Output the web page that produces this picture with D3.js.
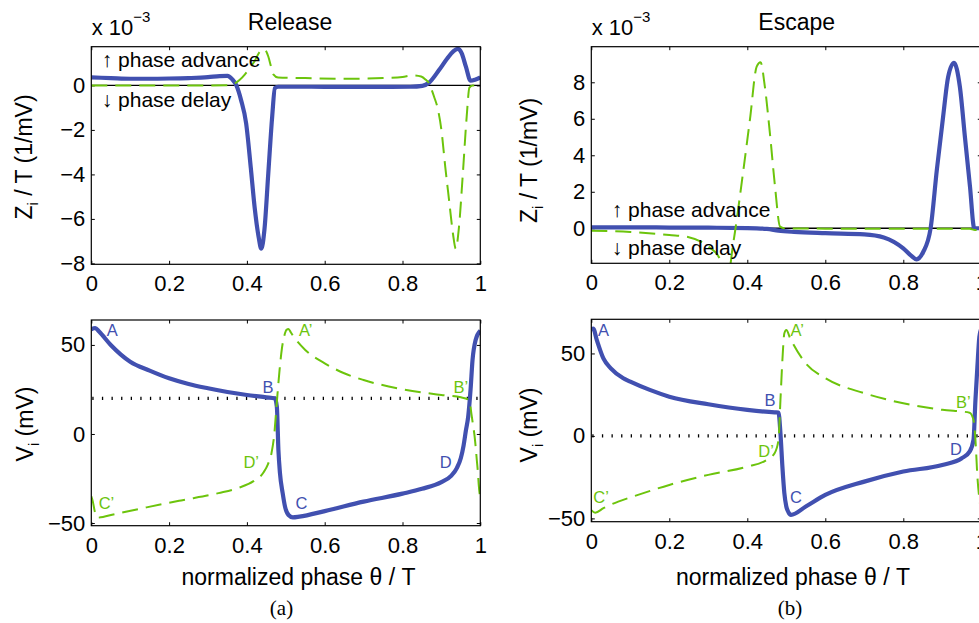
<!DOCTYPE html>
<html>
<head>
<meta charset="utf-8">
<script src="https://cdn.jsdelivr.net/npm/d3@7"></script>
<style>
  body { margin: 0; background: #fff; }
  svg { display: block; }
</style>
</head>
<body>
<svg id="chart" width="979" height="623"></svg>
<script>
// ---------------- DATA ----------------
const phaseTicks = [0, 0.2, 0.4, 0.6, 0.8, 1];
const phaseTickLabels = ["0", "0.2", "0.4", "0.6", "0.8", "1"];
const relZTicks = [-8, -6, -4, -2, 0];
const escZTicks = [0, 2, 4, 6, 8];
const vTicks = [-50, 0, 50];
const titles = ["Release", "Escape"];
const subLabels = ["(a)", "(b)"];
const relThreshold = 20;   // mV (dotted line, Release)
const escThreshold = 0;    // mV (dotted line, Escape)

// Release: phase response curves Z_i / T (x 1e-3, 1/mV)
const relZBlueX = [0,0.05,0.1,0.15,0.2,0.25,0.3,0.33,0.35,0.362,0.373,0.385,0.398,0.41,0.42,0.43,0.437,0.445,0.455,0.465,0.472,0.48,0.55,0.65,0.75,0.82,0.851,0.868,0.894,0.915,0.93,0.942,0.952,0.963,0.975,0.988,1];
const relZBlueY = [0.36,0.33,0.3,0.3,0.31,0.33,0.37,0.42,0.43,0.28,0,-0.66,-1.7,-3.7,-5.5,-6.8,-7.34,-6.5,-3.95,-1.4,-0.12,-0.06,-0.06,-0.07,-0.07,-0.06,-0.02,0.12,0.69,1.21,1.52,1.64,1.45,0.84,0.21,0.27,0.36];
const relZGreenX = [0,0.1,0.2,0.3,0.35,0.365,0.381,0.395,0.407,0.42,0.433,0.445,0.455,0.462,0.468,0.48,0.55,0.65,0.75,0.8,0.826,0.848,0.86,0.868,0.875,0.881,0.89,0.9,0.91,0.92,0.93,0.937,0.945,0.955,0.965,0.972,0.98,1];
const relZGreenY = [0,0,0,0,0.01,0.06,0.24,0.5,0.77,1.1,1.51,1.62,1.3,0.85,0.5,0.36,0.33,0.3,0.33,0.38,0.45,0.4,0.25,0.1,-0.2,-0.5,-1.0,-2.0,-3.67,-5.2,-6.7,-7.34,-6.4,-4.0,-1.4,-0.1,0,0];

// Escape: phase response curves Z_i / T (x 1e-3, 1/mV)
const escZBlueX = [0,0.1,0.2,0.3,0.4,0.45,0.48,0.52,0.6,0.7,0.75,0.8,0.82,0.834,0.851,0.87,0.886,0.902,0.915,0.93,0.945,0.958,0.971,0.982,0.99,1];
const escZBlueY = [0.05,0.05,0.04,0.03,0.01,-0.03,-0.13,-0.2,-0.27,-0.33,-0.5,-1.1,-1.5,-1.7,-1.3,0,3.2,6.1,8.3,9.07,7.76,5.0,2.28,0,0,0];
const escZGreenX = [0,0.1,0.2,0.25,0.3,0.33,0.345,0.355,0.362,0.368,0.39,0.407,0.424,0.434,0.445,0.458,0.471,0.484,0.495,0.6,0.8,0.97,0.984,1];
const escZGreenY = [-0.13,-0.2,-0.37,-0.49,-1.0,-1.7,-2.6,-2.2,-1.1,-0.26,3.2,6.0,8.86,9.1,7.76,5.2,2.3,0.09,0,-0.02,-0.02,-0.02,-0.1,0];

// Release: membrane potentials V_i (mV)
const relVBlueX = [0,0.01,0.02,0.05,0.1,0.15,0.2,0.25,0.3,0.35,0.4,0.45,0.472,0.477,0.481,0.485,0.492,0.498,0.507,0.518,0.535,0.6,0.7,0.8,0.85,0.9,0.925,0.94,0.95,0.957,0.963,0.969,0.975,0.98,0.988,1];
const relVBlueY = [58.8,59.5,57.5,50,40.6,35.6,31.3,28.1,25.7,23.6,21.9,20.6,20.0,15.3,-9,-22,-33.3,-40.8,-45.5,-46.8,-46.4,-43.3,-38,-33.5,-30.8,-27,-23.5,-19,-13.5,-6.5,2,10,25,41.5,52.8,58];
const relVGreenX = [0,0.004,0.009,0.015,0.06,0.142,0.231,0.327,0.379,0.417,0.443,0.454,0.463,0.47,0.477,0.484,0.49,0.496,0.502,0.507,0.513,0.52,0.55,0.6,0.65,0.7,0.8,0.9,0.95,0.972,0.977,0.982,0.985,0.988,0.991,0.994,0.996,1];
const relVGreenY = [-35,-38,-43.6,-47,-45,-41.2,-37.3,-33.2,-30.2,-26.5,-21.5,-17,-11,-1,18,36,48,55,58.5,59,57,54.7,47.2,39.7,34.1,30.3,25.1,21.9,20.6,19,11.6,4,-0.6,-7,-14.6,-22,-28.6,-36];

// Escape: membrane potentials V_i (mV)
const escVBlueX = [0,0.005,0.014,0.031,0.05,0.082,0.1,0.15,0.2,0.3,0.4,0.47,0.48,0.485,0.49,0.495,0.5,0.505,0.512,0.55,0.6,0.7,0.8,0.9,0.95,0.97,0.98,0.985,0.99,0.995,1];
const escVBlueY = [64.7,65,58.2,47,41,35,32.9,27.9,23.8,19.2,15.8,14.3,14.2,1.6,-18.6,-34.7,-42.8,-46,-47.9,-42.8,-35.8,-27.7,-21.6,-17.6,-13.5,-9.5,-2.4,21.8,42,60,65];
const escVGreenX = [0,0.01,0.031,0.069,0.1,0.2,0.3,0.4,0.45,0.47,0.48,0.485,0.49,0.495,0.5,0.51,0.55,0.6,0.7,0.8,0.9,0.97,0.98,0.985,0.99,0.995,1];
const escVGreenY = [-45,-46.5,-43.8,-39.8,-37.3,-29.7,-23.6,-18.6,-14.5,-10.5,-2.4,21.8,46,62.2,64.2,59.2,44,35,25.9,19.8,15.8,14.1,9.7,-2.4,-24.7,-38,-46];

// point labels (phase, mV)
const relPointLabels = ["A","B","C","D","A\u2019","B\u2019","C\u2019","D\u2019"];
const relPointX = [0.054,0.454,0.540,0.911,0.551,0.950,0.039,0.411];
const relPointV = [58.4,26.2,-38.6,-15.6,58.4,26.2,-38.9,-15.6];
const escPointLabels = ["A","B","C","D","A\u2019","B\u2019","C\u2019","D\u2019"];
const escPointX = [0.031,0.458,0.525,0.935,0.528,0.954,0.025,0.448];
const escPointV = [64.2,21.8,-37.2,-8.1,64.2,20.8,-37.2,-8.9];

// ---------------- DRAWING ----------------
const BLUE = "#4150b0";
const GREEN = "#6cc40c";
const SANS = "'Liberation Sans', Arial, Helvetica, sans-serif";
const SERIF = "'Liberation Serif', 'Times New Roman', serif";
const svg = d3.select("#chart");
const zip = (xs, ys) => xs.map((x, i) => [x, ys[i]]);

const panels = [
  { id: "tl", x0: 91.3, x1: 480.3, y0: 46.7, y1: 264.3, ydom: [-8.04, 1.74], yticks: relZTicks,
    blue: zip(relZBlueX, relZBlueY), green: zip(relZGreenX, relZGreenY), zero: true },
  { id: "tr", x0: 591.3, x1: 981.3, y0: 46.7, y1: 263.3, ydom: [-1.92, 9.95], yticks: escZTicks,
    blue: zip(escZBlueX, escZBlueY), green: zip(escZGreenX, escZGreenY), zero: true },
  { id: "bl", x0: 91.3, x1: 480.3, y0: 320, y1: 525.7, ydom: [-51.5, 64], yticks: vTicks,
    blue: zip(relVBlueX, relVBlueY), green: zip(relVGreenX, relVGreenY), dotted: relThreshold,
    labels: relPointLabels.map((t, i) => ({ t, x: relPointX[i], v: relPointV[i], c: t.length > 1 ? GREEN : BLUE })) },
  { id: "br", x0: 591.3, x1: 981.3, y0: 319.3, y1: 521.7, ydom: [-52, 70.7], yticks: vTicks,
    blue: zip(escVBlueX, escVBlueY), green: zip(escVGreenX, escVGreenY), dotted: escThreshold,
    labels: escPointLabels.map((t, i) => ({ t, x: escPointX[i], v: escPointV[i], c: t.length > 1 ? GREEN : BLUE })) }
];

const defs = svg.append("defs");
const TL = 3.5;

function styleAxis(g, fs) {
  g.select(".domain").remove();
  g.selectAll(".tick line").attr("stroke", "#000").attr("stroke-width", 1);
  g.selectAll(".tick text").attr("font-family", SANS).attr("font-size", fs).attr("fill", "#000");
}

panels.forEach(p => {
  p.x = d3.scaleLinear().domain([0, 1]).range([p.x0, p.x1]);
  p.y = d3.scaleLinear().domain(p.ydom).range([p.y1, p.y0]);
  const x = p.x, y = p.y;
  const g = svg.append("g");

  defs.append("clipPath").attr("id", "clip-" + p.id)
    .append("rect").attr("x", p.x0).attr("y", p.y0)
    .attr("width", p.x1 - p.x0).attr("height", p.y1 - p.y0);

  // axes (ticks inward on all sides)
  g.append("g").attr("transform", `translate(0,${p.y1})`)
    .call(d3.axisBottom(x).tickValues(phaseTicks).tickFormat((d, i) => phaseTickLabels[i])
      .tickSizeInner(-TL).tickSizeOuter(0).tickPadding(11.5))
    .call(a => styleAxis(a, 22));
  g.append("g").attr("transform", `translate(0,${p.y0})`)
    .call(d3.axisTop(x).tickValues(phaseTicks).tickFormat("").tickSizeInner(-TL).tickSizeOuter(0))
    .call(a => styleAxis(a, 22));
  g.append("g").attr("transform", `translate(${p.x0},0)`)
    .call(d3.axisLeft(y).tickValues(p.yticks).tickFormat(d3.format("d"))
      .tickSizeInner(-TL).tickSizeOuter(0).tickPadding(6))
    .call(a => styleAxis(a, 22));
  g.append("g").attr("transform", `translate(${p.x1},0)`)
    .call(d3.axisRight(y).tickValues(p.yticks).tickFormat("").tickSizeInner(-TL).tickSizeOuter(0))
    .call(a => styleAxis(a, 22));

  const plot = g.append("g").attr("clip-path", `url(#clip-${p.id})`);

  if (p.zero) {
    plot.append("line").attr("x1", x(0)).attr("x2", x(1)).attr("y1", y(0)).attr("y2", y(0))
      .attr("stroke", "#000").attr("stroke-width", 1.4);
  }
  if (p.dotted !== undefined) {
    plot.append("line").attr("x1", x(0) + 1).attr("x2", x(1)).attr("y1", y(p.dotted)).attr("y2", y(p.dotted))
      .attr("stroke", "#000").attr("stroke-width", 3.2).attr("stroke-dasharray", "1.3,8.3");
  }

  const line = d3.line().x(d => x(d[0])).y(d => y(d[1])).curve(d3.curveMonotoneX);
  plot.append("path").attr("d", line(p.blue)).attr("fill", "none")
    .attr("stroke", BLUE).attr("stroke-width", 4.2).attr("stroke-linejoin", "round");
  plot.append("path").attr("d", line(p.green)).attr("fill", "none")
    .attr("stroke", GREEN).attr("stroke-width", 2).attr("stroke-dasharray", "16,8");

  if (p.labels) {
    g.selectAll("text.pl").data(p.labels).enter().append("text")
      .attr("x", d => x(d.x)).attr("y", d => y(d.v)).attr("dy", "0.36em")
      .attr("text-anchor", "middle").attr("font-family", SANS).attr("font-size", 16.5)
      .attr("fill", d => d.c).text(d => d.t);
  }

  // frame
  g.append("rect").attr("x", p.x0).attr("y", p.y0).attr("width", p.x1 - p.x0).attr("height", p.y1 - p.y0)
    .attr("fill", "none").attr("stroke", "#000").attr("stroke-width", 1.2);
});

function addText(x, y, str, size, opts = {}) {
  return svg.append("text").attr("x", x).attr("y", y)
    .attr("font-family", opts.family || SANS).attr("font-size", size)
    .attr("text-anchor", opts.anchor || "start").attr("fill", opts.fill || "#000").text(str);
}

// titles
addText(290, 30, titles[0], 23, { anchor: "middle" });
addText(796.7, 30, titles[1], 23, { anchor: "middle" });

// exponent labels
[91.7, 591.7].forEach(x0 => {
  const t = addText(x0, 35, "x 10", 22);
  t.append("tspan").attr("dy", -13).attr("font-size", 15).text("\u22123");
});

// phase annotations
addText(101.7, 66.7, "\u2191 phase advance", 21);
addText(101.7, 107.3, "\u2193 phase delay", 21);
addText(611.7, 216.7, "\u2191 phase advance", 21);
addText(611.7, 255, "\u2193 phase delay", 21);

// y-axis labels
function yLabel(cx, cy, main, rest) {
  const t = svg.append("text").attr("transform", `translate(${cx},${cy}) rotate(-90)`)
    .attr("text-anchor", "middle").attr("font-family", SANS).attr("font-size", 23).attr("fill", "#000");
  t.append("tspan").text(main);
  t.append("tspan").attr("font-size", 15).attr("dy", 6).text("i");
  t.append("tspan").attr("dy", -6).text(rest);
}
yLabel(31.7, 157, "Z", " / T (1/mV)");
yLabel(536.7, 160.5, "Z", " / T (1/mV)");
yLabel(33, 424, "V", " (mV)");
yLabel(536.7, 425, "V", " (mV)");

// x-axis labels
addText(298.5, 585, "normalized phase \u03b8 / T", 23, { anchor: "middle" });
addText(793, 585, "normalized phase \u03b8 / T", 23, { anchor: "middle" });

// sub-figure labels
addText(281.5, 615, subLabels[0], 21, { anchor: "middle", family: SERIF });
addText(790, 615, subLabels[1], 21, { anchor: "middle", family: SERIF });
</script>
</body>
</html>
